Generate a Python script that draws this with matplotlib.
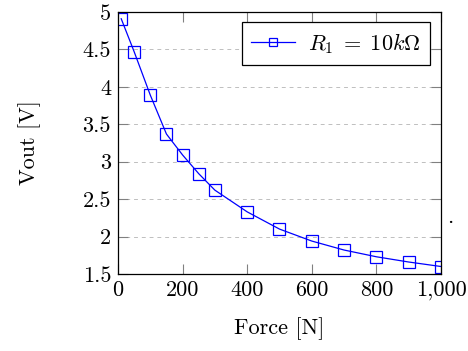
import matplotlib
matplotlib.use("Agg")
import matplotlib.pyplot as plt

# readings of the output voltage for each applied force
force = [10, 50, 100, 150, 200, 250, 300, 400, 500, 600, 700, 800, 900, 1000]
vout = [4.91, 4.47, 3.89, 3.37, 3.09, 2.84, 2.62, 2.33, 2.10, 1.94, 1.82, 1.73, 1.66, 1.60]

xticks = [0, 200, 400, 600, 800, 1000]
xticklabels = ["0", "200", "400", "600", "800", "1,000"]
yticks = [1.5, 2, 2.5, 3, 3.5, 4, 4.5, 5]
yticklabels = ["1.5", "2", "2.5", "3", "3.5", "4", "4.5", "5"]

plt.rcParams["font.family"] = "serif"
plt.rcParams["font.serif"] = ["cmr10", "DejaVu Serif"]
plt.rcParams["mathtext.fontset"] = "cm"
plt.rcParams["axes.unicode_minus"] = False

fig = plt.figure(figsize=(4.68, 3.51), dpi=100)
ax = fig.add_axes([0.2521, 0.2194, 0.6902, 0.7464])

ax.plot(force, vout, color="blue", lw=0.9, marker="s", markersize=8,
        markerfacecolor="none", markeredgecolor="blue", markeredgewidth=0.9,
        label=r"$R_1\;=\;10k\Omega$")

ax.set_xlim(0, 1000)
ax.set_ylim(1.5, 5)
ax.set_xticks(xticks)
ax.set_xticklabels(xticklabels)
ax.set_yticks(yticks)
ax.set_yticklabels(yticklabels)

ax.grid(axis="y", color="0.75", linestyle=(0, (4, 4)), lw=0.7)
ax.set_axisbelow(True)
ax.tick_params(direction="in", length=7.5, width=0.8, color="0.5",
               top=True, right=True, labelsize=16, pad=5)
for s in ax.spines.values():
    s.set_linewidth(0.9)

ax.set_xlabel("Force [N]", fontsize=16, labelpad=12)
ax.set_ylabel("Vout [V]", fontsize=16, labelpad=30)

leg = ax.legend(loc="upper right", fontsize=16, handlelength=2.0,
                handletextpad=0.6, markerscale=0.7, fancybox=False,
                framealpha=1, edgecolor="black", borderpad=0.4,
                borderaxespad=0, bbox_to_anchor=(0.966, 0.962))
leg.get_frame().set_linewidth(0.9)

fig.text(450 / 468, 1 - 217 / 351, ".", fontsize=16, ha="center", va="center")

fig.savefig("out.png", dpi=100)
